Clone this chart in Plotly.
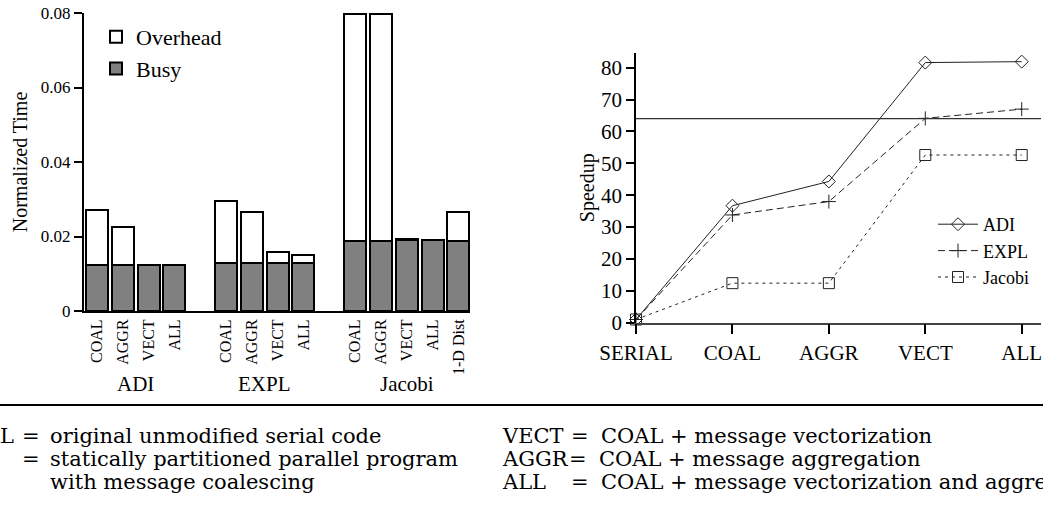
import plotly.graph_objects as go

# ---------------- data ----------------
groups = ["ADI", "EXPL", "Jacobi"]
adi_variants = ["COAL", "AGGR", "VECT", "ALL"]
expl_variants = ["COAL", "AGGR", "VECT", "ALL"]
jacobi_variants = ["COAL", "AGGR", "VECT", "ALL", "1-D Dist"]

adi_busy = [0.0124, 0.0124, 0.0124, 0.0124]
adi_overhead = [0.0148, 0.0102, 0.0, 0.0]
expl_busy = [0.0130, 0.0130, 0.0130, 0.0130]
expl_overhead = [0.0164, 0.0135, 0.0029, 0.0020]
jacobi_busy = [0.0189, 0.0189, 0.0190, 0.0190, 0.0189]
jacobi_overhead = [0.0608, 0.0608, 0.0002, 0.0001, 0.0076]

stages = ["SERIAL", "COAL", "AGGR", "VECT", "ALL"]
adi_speedup = [1, 36.7, 44.3, 81.6, 81.9]
expl_speedup = [1, 33.8, 38.0, 64.1, 67.0]
jacobi_speedup = [1, 12.4, 12.4, 52.6, 52.6]
ideal_speedup = 64

left_ticks = [0, 0.02, 0.04, 0.06, 0.08]
left_ticktext = ["0", "0.02", "0.04", "0.06", "0.08"]
right_ticks = [0, 10, 20, 30, 40, 50, 60, 70, 80]

# ---------------- build bar positions ----------------
variants = [adi_variants, expl_variants, jacobi_variants]
busy = [adi_busy, expl_busy, jacobi_busy]
overhead = [adi_overhead, expl_overhead, jacobi_overhead]
GROUP_STRIDE = 5
xs, bs, os_, labels, centers = [], [], [], [], []
for gi, (vs, b, o) in enumerate(zip(variants, busy, overhead)):
    pos = [gi * GROUP_STRIDE + i for i in range(len(vs))]
    xs += pos
    bs += b
    os_ += o
    labels += vs
    centers.append((pos[0] + pos[3]) / 2 if len(pos) == 4 else (pos[0] + pos[-1]) / 2)

SERIF = "Liberation Serif"
W, H = 1043, 508

fig = go.Figure()
fig.add_trace(go.Bar(x=xs, y=bs, name="Busy", width=0.85,
                     marker=dict(color="#808080", line=dict(color="black", width=2)),
                     xaxis="x", yaxis="y", legend="legend"))
fig.add_trace(go.Bar(x=xs, y=os_, name="Overhead", width=0.85,
                     marker=dict(color="white", line=dict(color="black", width=2)),
                     xaxis="x", yaxis="y", legend="legend"))

line_col = "#222222"
fig.add_trace(go.Scatter(x=stages, y=adi_speedup, name="ADI", mode="lines+markers",
                         line=dict(color=line_col, width=1),
                         marker=dict(symbol="diamond-open", size=10, color=line_col, line=dict(width=1)),
                         cliponaxis=False, xaxis="x2", yaxis="y2", legend="legend2"))
fig.add_trace(go.Scatter(x=stages, y=expl_speedup, name="EXPL", mode="lines+markers",
                         line=dict(color=line_col, width=1, dash="7px,4px"),
                         marker=dict(symbol="cross-thin", size=10, color=line_col, line=dict(width=1, color=line_col)),
                         cliponaxis=False, xaxis="x2", yaxis="y2", legend="legend2"))
fig.add_trace(go.Scatter(x=stages, y=jacobi_speedup, name="Jacobi", mode="lines+markers",
                         line=dict(color=line_col, width=1, dash="3px,4px"),
                         marker=dict(symbol="square-open", size=11, color=line_col, line=dict(width=1)),
                         cliponaxis=False, xaxis="x2", yaxis="y2", legend="legend2"))

fig.add_shape(type="line", xref="x2 domain", yref="y2", x0=0, x1=1, y0=ideal_speedup, y1=ideal_speedup,
              line=dict(color="#333333", width=1.3))

fig.update_layout(
    width=W, height=H, autosize=False,
    margin=dict(l=0, r=0, t=0, b=0, autoexpand=False),
    paper_bgcolor="white", plot_bgcolor="white",
    barmode="stack", bargap=0,
    font=dict(family=SERIF, color="black"),
    xaxis=dict(domain=[84 / W, 470 / W], range=[-0.5, 14.45], automargin=False,
               tickvals=xs, ticktext=labels, tickangle=-90,
               tickfont=dict(family=SERIF, size=16), ticks="", showgrid=False,
               showline=True, linecolor="black", linewidth=2, zeroline=False),
    yaxis=dict(domain=[(H - 311) / H, (H - 13) / H], range=[0, 0.08], automargin=False,
               tickvals=left_ticks, ticktext=left_ticktext, tickfont=dict(family=SERIF, size=17),
               ticks="outside", ticklen=8, tickwidth=2, tickcolor="black",
               showgrid=False, showline=True, linecolor="black", linewidth=2, zeroline=False,
               title=dict(text="Normalized Time", font=dict(family=SERIF, size=20), standoff=8)),
    xaxis2=dict(domain=[636 / W, 1041 / W], range=[0, 4.2], type="category", automargin=False,
                tickfont=dict(family=SERIF, size=21), ticks="outside", ticklen=10, tickwidth=2,
                tickcolor="black", showgrid=False, showline=True, linecolor="#444444",
                linewidth=1.5, zeroline=False, anchor="y2"),
    yaxis2=dict(domain=[(H - 322.7) / H, (H - 52.7) / H], range=[0, 84.7], automargin=False,
                tickvals=right_ticks, tickfont=dict(family=SERIF, size=21),
                ticks="outside", ticklen=8, tickwidth=2, tickcolor="black",
                showgrid=False, showline=True, linecolor="black", linewidth=1.5, zeroline=False,
                anchor="x2",
                title=dict(text="Speedup", font=dict(family=SERIF, size=20), standoff=1)),
    legend=dict(x=96 / W, y=1 - 16 / H, xanchor="left", yanchor="top",
                traceorder="reversed", font=dict(family=SERIF, size=22),
                bgcolor="rgba(0,0,0,0)", itemwidth=30),
    legend2=dict(x=1034 / W, y=1 - 206 / H, xanchor="right", yanchor="top",
                 font=dict(family=SERIF, size=18), bgcolor="rgba(0,0,0,0)",
                 tracegroupgap=0, itemwidth=40),
    showlegend=True,
)

# group labels under the bar chart
for g, c in zip(groups, centers):
    fig.add_annotation(x=c, y=1 - 384 / H, xref="x", yref="paper",
                       text=g, showarrow=False, font=dict(family=SERIF, size=21),
                       yanchor="middle")

# separator rule
fig.add_shape(type="line", xref="paper", yref="paper", x0=0, x1=1, y0=(H - 405) / H, y1=(H - 405) / H,
              line=dict(color="black", width=2))

# footnote definitions
NOTE = "DejaVu Serif"
nfont = dict(family=NOTE, size=21, color="black")
rows_y = [436, 459, 482]
def note(px, py, text, anchor="left"):
    fig.add_annotation(x=px / W, y=1 - py / H, xref="paper", yref="paper", text=text,
                       showarrow=False, xanchor=anchor, yanchor="middle", font=nfont,
                       borderpad=0)

note(15, rows_y[0], "SERIAL", "right")
note(-14, rows_y[1], "COAL", "right")
note(21, rows_y[0], "=")
note(21, rows_y[1], "=")
note(49, rows_y[0], "original unmodified serial code")
note(49, rows_y[1], "statically partitioned parallel program")
note(49, rows_y[2], "with message coalescing")
note(501, rows_y[0], "VECT")
note(501, rows_y[1], "AGGR")
note(501, rows_y[2], "ALL")
note(570, rows_y[0], "=")
note(568, rows_y[1], "=")
note(570, rows_y[2], "=")
note(600, rows_y[0], "COAL + message vectorization")
note(598, rows_y[1], "COAL + message aggregation")
note(600, rows_y[2], "COAL + message vectorization and aggregation")

fig.write_html("out.html", config={"displayModeBar": False},
               post_script="document.body.style.margin='0';document.body.style.overflow='hidden';")
